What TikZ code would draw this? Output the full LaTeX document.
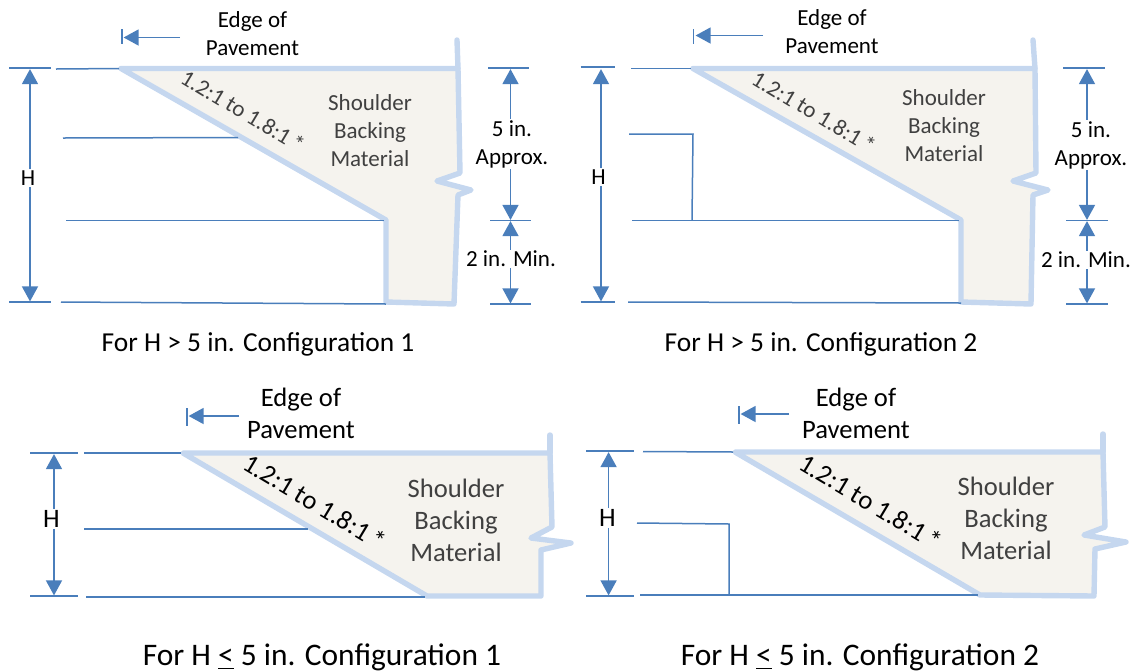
\documentclass[tikz,border=0pt]{standalone}
\usepackage{fontspec}
\setmainfont{Carlito}
\usepackage{xcolor}
\usetikzlibrary{arrows.meta}
\definecolor{dimblue}{RGB}{74,126,187}
\definecolor{edgeblue}{RGB}{197,215,239}
\definecolor{backfill}{RGB}{245,243,238}
\definecolor{backtext}{RGB}{64,64,64}
\tikzset{
  refline/.style={color=dimblue,line width=0.75pt},
  dimarrow/.style={color=dimblue,line width=0.75pt,-{Triangle[length=7.5pt,width=8pt]},shorten >=0.3pt},
  backing/.style={draw=edgeblue,fill=backfill,line width=2.7pt,line join=round,line cap=round},
  lipline/.style={draw=edgeblue,line width=2.7pt,line cap=round},
  smalltxt/.style={align=center,inner sep=0.5pt,font=\fontsize{11.5}{14}\selectfont},
  bigtxt/.style={align=center,inner sep=0.5pt,font=\fontsize{13.3}{16}\selectfont},
  matsmall/.style={smalltxt,text=backtext},
  matbig/.style={bigtxt,text=backtext},
  captxt/.style={inner sep=1pt,font=\fontsize{13.7}{16}\selectfont},
  captbig/.style={inner sep=1pt,font=\fontsize{15.7}{18}\selectfont}
}

\begin{document}
\begin{tikzpicture}[x=0.5pt,y=-0.5pt]
\useasboundingbox (0,0) rectangle (1132,671);

% Top left
\draw[backing] (121,68.5) -- (458,68.5) -- (460,173) -- (437,181) -- (471,190) -- (458,195) -- (454,304) -- (386,302) -- (386,220) -- cycle;
\draw[lipline] (457,40) -- (458,68.5);
\coordinate (aT1) at (9,68); \coordinate (aT2) at (50.5,68);
\coordinate (aT3) at (56,69); \coordinate (aT4) at (119,68.5);
\coordinate (aM1) at (63,138); \coordinate (aM2) at (238,137.5);
\coordinate (aS1) at (66,220.5); \coordinate (aS2) at (384,220.5);
\coordinate (aB1) at (9,302); \coordinate (aB2) at (50.5,302);
\coordinate (aB3) at (61,302); \coordinate (aB4) at (386,304);
\coordinate (aHt) at (30,68.5); \coordinate (aHb) at (30,302);
\coordinate (aR1) at (488,68); \coordinate (aR2) at (529,68);
\coordinate (aR3) at (490,220.5); \coordinate (aR4) at (531,220.5);
\coordinate (aR5) at (490,304); \coordinate (aR6) at (531,304);
\coordinate (aRt) at (510.5,68.5); \coordinate (aRm) at (510.5,220.5); \coordinate (aRb) at (510.5,304);
\coordinate (aE1) at (122,29); \coordinate (aE2) at (122,44);
\coordinate (aE3) at (180,37.5); \coordinate (aE4) at (123,37.5);
\foreach \p/\q in {aT1/aT2,aT3/aT4,aM1/aM2,aS1/aS2,aB1/aB2,aB3/aB4,aR1/aR2,aR3/aR4,aR5/aR6,aE1/aE2}
  \draw[refline] (\p) -- (\q);
\draw[dimarrow] (aE3) -- (aE4);
\node[smalltxt] (aH) at (28,178) {H};
\draw[dimarrow] (aHt |- aH.north) -- (aHt);
\draw[dimarrow] (aHb |- aH.south) -- (aHb);
\node[smalltxt] (aFive) at (512,144) {5 in.\\Approx.};
\draw[dimarrow] (aRt |- aFive.north) -- (aRt);
\draw[dimarrow] (aRm |- aFive.south) -- (aRm);
\node[smalltxt] (aTwo) at (511,259) {2 in. Min.};
\draw[dimarrow] (aRm |- aTwo.north) -- (aRm);
\draw[dimarrow] (aRb |- aTwo.south) -- (aRb);
\node[smalltxt] (aEdge) at (252.5,34) {Edge of\\Pavement};
\node[matsmall] (aMat) at (370,131) {Shoulder\\Backing\\Material};
\node[smalltxt,rotate=-31,text=backtext] (aSlope) at (243,111) {1.2:1 to 1.8:1\,*};
\node[captxt] (aCap) at (258,344) {For H > 5 in. Configuration 1};

% Top right
\draw[backing] (693,68.5) -- (1035,68.5) -- (1036,173) -- (1013,181) -- (1048,190) -- (1033,195) -- (1031,304) -- (961,302) -- (961,220) -- cycle;
\draw[lipline] (1033,40) -- (1035,68.5);
\coordinate (bT1) at (580.5,67); \coordinate (bT2) at (615,67);
\coordinate (bT3) at (631,68.5); \coordinate (bT4) at (691,68.5);
\coordinate (bM1) at (629,134); \coordinate (bM2) at (693,134); \coordinate (bM3) at (692,220.5);
\coordinate (bS1) at (632,220.5); \coordinate (bS2) at (959,220.5);
\coordinate (bB1) at (580.5,302); \coordinate (bB2) at (615,302);
\coordinate (bB3) at (628,302); \coordinate (bB4) at (961,303);
\coordinate (bHt) at (601,68.5); \coordinate (bHb) at (601,302);
\coordinate (bR1) at (1063,68); \coordinate (bR2) at (1105,68);
\coordinate (bR3) at (1066,220.5); \coordinate (bR4) at (1108,220.5);
\coordinate (bR5) at (1066,304); \coordinate (bR6) at (1108,304);
\coordinate (bRt) at (1087,68.5); \coordinate (bRm) at (1087,220.5); \coordinate (bRb) at (1087,304);
\coordinate (bE1) at (693.5,29); \coordinate (bE2) at (693.5,44);
\coordinate (bE3) at (763,35.5); \coordinate (bE4) at (695,35.5);
\foreach \p/\q in {bT1/bT2,bT3/bT4,bS1/bS2,bB1/bB2,bB3/bB4,bR1/bR2,bR3/bR4,bR5/bR6,bE1/bE2}
  \draw[refline] (\p) -- (\q);
\draw[refline] (bM1) -- (bM2) -- (bM3);
\draw[dimarrow] (bE3) -- (bE4);
\node[smalltxt] (bH) at (598.5,177) {H};
\draw[dimarrow] (bHt |- bH.north) -- (bHt);
\draw[dimarrow] (bHb |- bH.south) -- (bHb);
\node[smalltxt] (bFive) at (1091,145) {5 in.\\Approx.};
\draw[dimarrow] (bRt |- bFive.north) -- (bRt);
\draw[dimarrow] (bRm |- bFive.south) -- (bRm);
\node[smalltxt] (bTwo) at (1086,260) {2 in. Min.};
\draw[dimarrow] (bRm |- bTwo.north) -- (bRm);
\draw[dimarrow] (bRb |- bTwo.south) -- (bRb);
\node[smalltxt] (bEdge) at (832,32) {Edge of\\Pavement};
\node[matsmall] (bMat) at (944,126) {Shoulder\\Backing\\Material};
\node[smalltxt,rotate=-31,text=backtext] (bSlope) at (814,112) {1.2:1 to 1.8:1\,*};
\node[captxt] (bCap) at (821,344) {For H > 5 in. Configuration 2};

% Bottom left
\draw[backing] (183,453) -- (550,453) -- (552,527) -- (531,538) -- (571,543) -- (541,550) -- (541,596) -- (427,596) -- cycle;
\draw[lipline] (550,435) -- (550,453);
\coordinate (cT1) at (30,453); \coordinate (cT2) at (78,453);
\coordinate (cT3) at (84,453); \coordinate (cT4) at (181,453);
\coordinate (cM1) at (84,529); \coordinate (cM2) at (308,529);
\coordinate (cB1) at (30,596); \coordinate (cB2) at (78,596);
\coordinate (cB3) at (86,597); \coordinate (cB4) at (425,597);
\coordinate (cHt) at (54,453.5); \coordinate (cHb) at (54,596);
\coordinate (cE1) at (187,408); \coordinate (cE2) at (187,426);
\coordinate (cE3) at (239,416); \coordinate (cE4) at (188,416);
\foreach \p/\q in {cT1/cT2,cT3/cT4,cM1/cM2,cB1/cB2,cB3/cB4,cE1/cE2}
  \draw[refline] (\p) -- (\q);
\draw[dimarrow] (cE3) -- (cE4);
\node[bigtxt] (cH) at (51.5,519) {H};
\draw[dimarrow] (cHt |- cH.north) -- (cHt);
\draw[dimarrow] (cHb |- cH.south) -- (cHb);
\node[bigtxt] (cEdge) at (301,413) {Edge of\\Pavement};
\node[matbig] (cMat) at (456,520) {Shoulder\\Backing\\Material};
\node[bigtxt,rotate=-31] (cSlope) at (315,502) {1.2:1 to 1.8:1\,*};
\node[captbig] (cCap) at (322,657) {For H \underline{<} 5 in. Configuration 1};

% Bottom right
\draw[backing] (735,452) -- (1103,452) -- (1105,527) -- (1084,535) -- (1126,542) -- (1095,549) -- (1094,596) -- (980,595) -- cycle;
\draw[lipline] (1103,434) -- (1103,452);
\coordinate (dT1) at (586,451); \coordinate (dT2) at (634,451);
\coordinate (dT3) at (643,451.5); \coordinate (dT4) at (733,452);
\coordinate (dM1) at (637,523); \coordinate (dM2) at (729,524); \coordinate (dM3) at (729,595);
\coordinate (dB1) at (586,596); \coordinate (dB2) at (634,596);
\coordinate (dB3) at (640,595); \coordinate (dB4) at (978,595);
\coordinate (dHt) at (608.6,451.5); \coordinate (dHb) at (608.6,596);
\coordinate (dE1) at (739,406); \coordinate (dE2) at (739,424);
\coordinate (dE3) at (789,414); \coordinate (dE4) at (740,414);
\foreach \p/\q in {dT1/dT2,dT3/dT4,dB1/dB2,dB3/dB4,dE1/dE2}
  \draw[refline] (\p) -- (\q);
\draw[refline] (dM1) -- (dM2) -- (dM3);
\draw[dimarrow] (dE3) -- (dE4);
\node[bigtxt] (dH) at (607.5,518) {H};
\draw[dimarrow] (dHt |- dH.north) -- (dHt);
\draw[dimarrow] (dHb |- dH.south) -- (dHb);
\node[bigtxt] (dEdge) at (856,413) {Edge of\\Pavement};
\node[matbig] (dMat) at (1006,518) {Shoulder\\Backing\\Material};
\node[bigtxt,rotate=-31] (dSlope) at (871,502) {1.2:1 to 1.8:1\,*};
\node[captbig] (dCap) at (860,657) {For H \underline{<} 5 in. Configuration 2};
\end{tikzpicture}
\end{document}
